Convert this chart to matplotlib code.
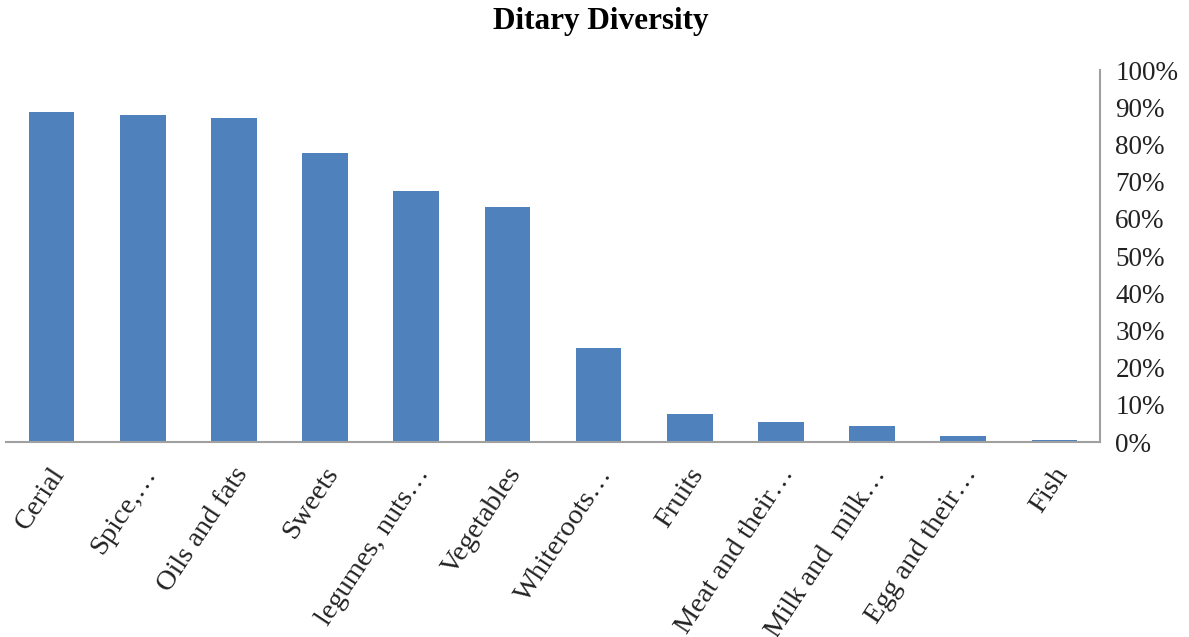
import matplotlib
matplotlib.use("Agg")
import matplotlib.pyplot as plt
import matplotlib.transforms as mtransforms
from matplotlib.ticker import PercentFormatter

categories = ["Cerial", "Spice,…", "Oils and fats", "Sweets", "legumes, nuts…",
              "Vegetables", "Whiteroots…", "Fruits", "Meat and their…",
              "Milk and  milk…", "Egg and their…", "Fish"]
values = [88.8, 87.8, 87.2, 77.8, 67.6, 63.2, 25.2, 7.5, 5.4, 4.3, 1.5, 0.5]
yticks = list(range(0, 101, 10))

plt.rcParams['font.family'] = ['Liberation Serif', 'DejaVu Serif']

fig = plt.figure(figsize=(11.89, 6.37), dpi=100)
ax = fig.add_axes([6/1189, 1 - 442/637, (1100 - 6)/1189, (442 - 70)/637])

x = list(range(len(categories)))
ax.bar(x, values, width=0.5, color="#4F81BD")
ax.set_xlim(-0.5, len(categories) - 0.5)
ax.set_ylim(0, 100)

ax.yaxis.tick_right()
ax.set_yticks(yticks)
ax.yaxis.set_major_formatter(PercentFormatter(decimals=0))
ax.tick_params(axis='y', length=0, labelsize=19.5, pad=11, colors='#222222')
ax.tick_params(axis='x', length=0, labelsize=20.5, pad=15)

ax.set_xticks(x)
ax.set_xticklabels(categories, rotation=56.5, ha='right', rotation_mode='anchor')
offset = mtransforms.ScaledTranslation(-2/100, 0, fig.dpi_scale_trans)
for lab in ax.get_xticklabels():
    lab.set_color('#222222')
    lab.set_transform(lab.get_transform() + offset)

for s in ['top', 'left']:
    ax.spines[s].set_visible(False)
for s in ['right', 'bottom']:
    ax.spines[s].set_color('#A0A0A0')
    ax.spines[s].set_linewidth(1.5)

fig.text(601/1189, 1 - 22/637, "Ditary Diversity", ha='center', va='center',
         fontsize=22.5, fontweight='bold', color='black')

fig.savefig("out.png", dpi=100)
